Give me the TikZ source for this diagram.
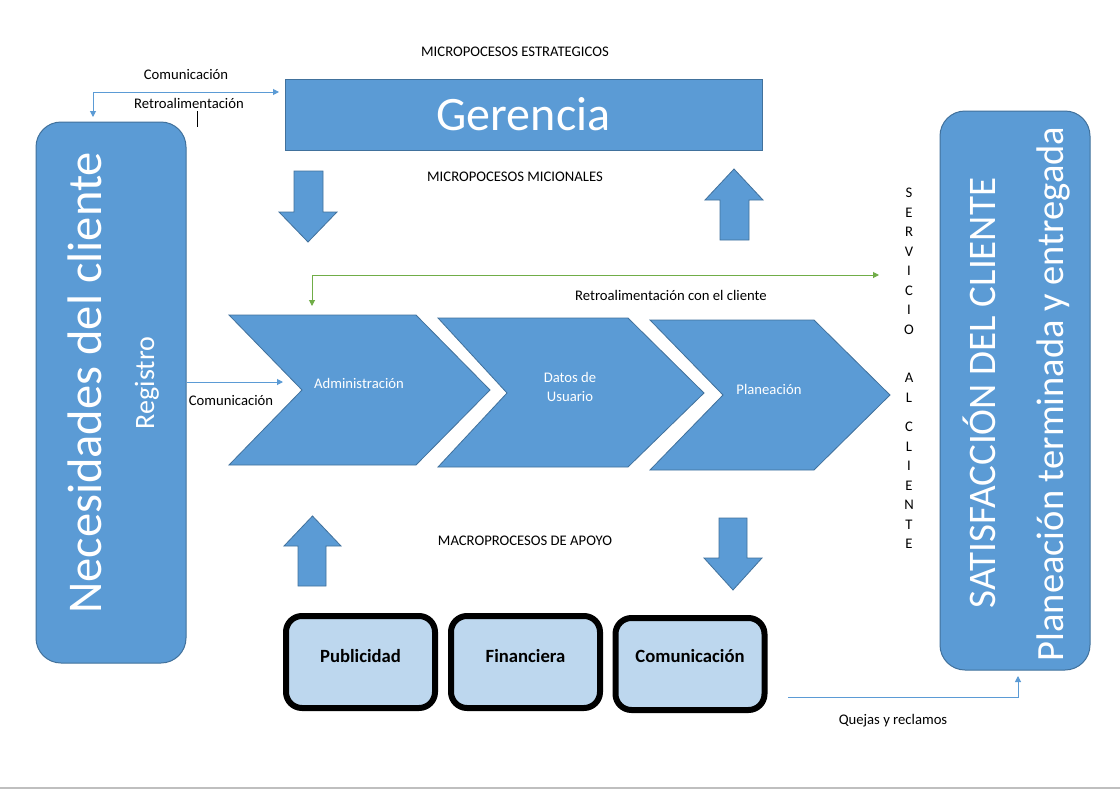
\documentclass[tikz,border=0pt]{standalone}
\usepackage{fontspec}
\setmainfont{Carlito}
\usetikzlibrary{arrows.meta}
\definecolor{mblue}{HTML}{5B9BD5}
\definecolor{dblue}{HTML}{41719C}
\definecolor{lblue}{HTML}{BDD7EE}
\definecolor{mgreen}{HTML}{70AD47}
\definecolor{lgray}{HTML}{BFBFBF}
\begin{document}
\begin{tikzpicture}[x=1pt,y=-1pt,
  bigbox/.style={draw=dblue, fill=mblue, rounded corners=25pt, line width=1pt, inner sep=0},
  shapeblue/.style={draw=dblue, fill=mblue, line width=0.8pt},
  lbl/.style={font=\fontsize{14.67}{17}\selectfont, inner sep=0, anchor=base},
  wlbl/.style={font=\fontsize{14.67}{19}\selectfont, inner sep=0, text=white, align=center},
  conn/.style={draw=mblue, line width=1pt},
  gconn/.style={draw=mgreen, line width=1pt},
  arrtip/.style={-{Triangle[width=6pt,length=6pt]}},
  bothtips/.style={{Triangle[width=6pt,length=6pt]}-{Triangle[width=6pt,length=6pt]}},
  supbox/.style={draw=black, line width=6pt, fill=lblue, rounded corners=16pt, minimum width=149pt, minimum height=92pt, inner sep=0},
  suplbl/.style={font=\bfseries\fontsize{18.67}{20}\selectfont, inner sep=0},
  vert/.style={rotate=90, anchor=base, text=white, inner sep=0},
  letter/.style={font=\fontsize{14.67}{17}\selectfont, inner sep=0}
]
\useasboundingbox (0,0) rectangle (1120,790);
\fill[white] (0,0) rectangle (1120,790);
\draw[lgray, line width=1.5pt] (0,788) -- (1120,788);

% left box
\node[bigbox, minimum width=150pt, minimum height=541pt] (nec) at (111,392.5) {};
\node[vert, font=\fontsize{48.5}{50}\selectfont] (nect) at (101,383) {Necesidades del cliente};
\node[vert, font=\fontsize{28}{30}\selectfont] (reg) at (154,383) {Registro};

% right box
\node[bigbox, minimum width=150pt, minimum height=559pt] (sat) at (1015,390.5) {};
\node[vert, font=\fontsize{39}{41}\selectfont] (satt) at (995,393) {SATISFACCIÓN DEL CLIENTE};
\node[vert, font=\fontsize{38.5}{41}\selectfont] (plant) at (1063,394) {Planeación terminada y entregada};

% Gerencia
\node[draw=dblue, fill=mblue, line width=0.8pt, minimum width=477pt, minimum height=71pt, text=white, font=\fontsize{48}{50}\selectfont] (ger) at (523.5,114.5) {Gerencia};

% labels
\node[lbl] (lmes) at (515,56) {MICROPOCESOS ESTRATEGICOS};
\node[lbl] (lcom1) at (186,79) {Comunicación};
\node[lbl] (lret1) at (189,108) {Retroalimentación};
\node[lbl] (lmmi) at (515,181) {MICROPOCESOS MICIONALES};
\node[lbl] (lretc) at (671,300) {Retroalimentación con el cliente};
\node[lbl] (lcom2) at (231,405) {Comunicación};
\node[lbl] (lmap) at (525,545) {MACROPROCESOS DE APOYO};
\node[lbl] (lqr) at (893,724) {Quejas y reclamos};
\draw[black, line width=0.8pt] (197,111) -- (197,127);

% block arrows
\path[shapeblue] (294,171) -- (323,171) -- (323,212) -- (337,212) -- (308,242) -- (279,212) -- (294,212) -- cycle;
\path[shapeblue] (734,169) -- (763,200) -- (749,200) -- (749,240) -- (720,240) -- (720,200) -- (705,200) -- cycle;
\path[shapeblue] (312.5,516) -- (341,546) -- (326,546) -- (326,586) -- (298,586) -- (298,546) -- (284,546) -- cycle;
\path[shapeblue] (719,518) -- (747,518) -- (747,558) -- (762,558) -- (733,590) -- (704,558) -- (719,558) -- cycle;

% chevrons
\path[shapeblue] (229,315) -- (416,315) -- (490,390) -- (416,465) -- (229,465) -- (302,390) -- cycle;
\path[shapeblue] (438,318) -- (628,318) -- (704,393) -- (628,467) -- (438,467) -- (507,393) -- cycle;
\path[shapeblue] (650,320) -- (814,320) -- (890,395) -- (814,470) -- (650,470) -- (723,395) -- cycle;
\node[wlbl] (adm) at (359,383) {Administración};
\node[wlbl] (dat) at (570,387) {Datos de\\Usuario};
\node[wlbl] (pla) at (769,389) {Planeación};

% support boxes
\node[supbox] (pub) at (360.5,662) {};
\node[supbox] (fin) at (525.5,662) {};
\node[supbox] (com) at (690,664) {};
\node[suplbl, yshift=6pt] (pubt) at (pub.center) {Publicidad};
\node[suplbl, yshift=6pt] (fint) at (fin.center) {Financiera};
\node[suplbl, yshift=8pt] (comt) at (com.center) {Comunicación};

% servicio al cliente
\foreach \l/\y [count=\i] in {S/193,E/212.5,R/232,V/251.5,I/271,C/290.5,I/310,O/329.5,A/378,L/397.5,C/427,L/446.5,I/466,E/485.5,N/505,T/524.5,E/544}
  \node[letter] (sv\i) at (909,\y) {\l};

% connectors
\coordinate (c1) at (279,92);
\coordinate (c2) at (93,117);
\draw[conn, bothtips] (c2) |- (c1);
\coordinate (c3) at (283,382);
\draw[conn, arrtip] (nec.east |- c3) -- (c3);
\coordinate (g1) at (312,306);
\coordinate (g2) at (879,275);
\draw[gconn, bothtips] (g1) |- (g2);
\coordinate (q0) at (788,697);
\coordinate (q1) at (1018,676);
\draw[conn, arrtip] (q0) -| (q1);
\end{tikzpicture}
\end{document}
